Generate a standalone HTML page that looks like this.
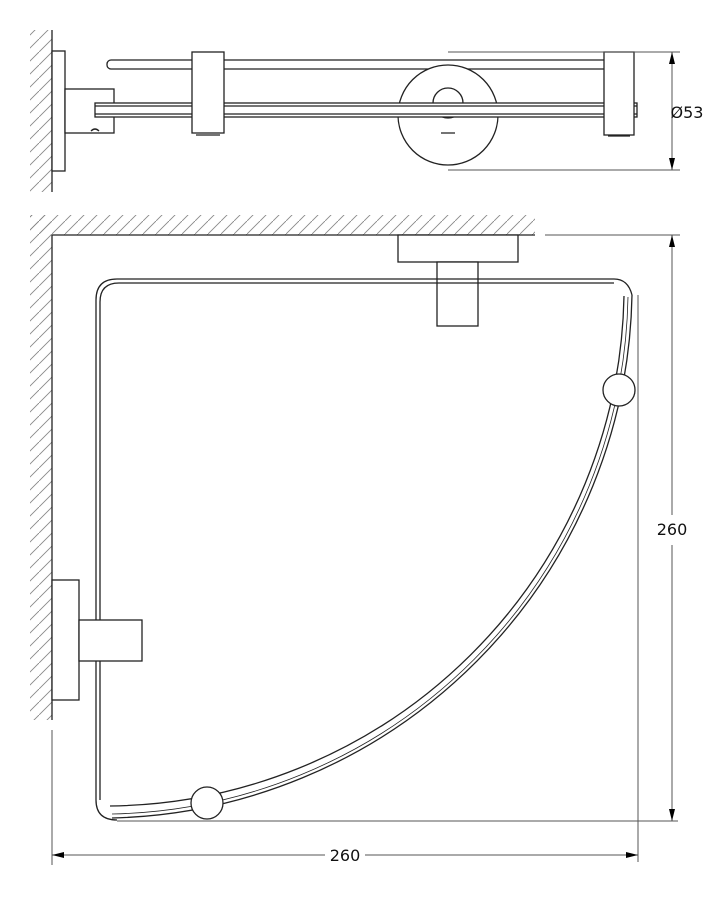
<!DOCTYPE html>
<html><head><style>body{margin:0;background:#fff}svg{display:block}</style></head><body>
<svg width="725" height="900" viewBox="0 0 725 900" xmlns="http://www.w3.org/2000/svg" font-family="'DejaVu Sans','Liberation Sans',sans-serif">
<defs>
<pattern id="h" width="13" height="13" patternUnits="userSpaceOnUse"><path d="M-2,15 L15,-2" stroke="#888" stroke-width="0.9"/></pattern>
<marker id="a" markerWidth="12" markerHeight="6" refX="12" refY="3" orient="auto" markerUnits="userSpaceOnUse"><path d="M0,0 L12,3 L0,6z" fill="#000"/></marker>
</defs>
<g fill="none" stroke="#222" stroke-width="1.3">
<rect x="30" y="30" width="22" height="162" fill="url(#h)" stroke="none"/>
<line x1="52" y1="30" x2="52" y2="192"/>
<rect x="52" y="51" width="13" height="120" fill="#fff"/>
<rect x="65" y="89" width="49" height="44" fill="#fff"/>
<rect x="107" y="60" width="518" height="9" rx="4" fill="#fff"/>
<circle cx="448" cy="115" r="50" fill="#fff"/>
<circle cx="448" cy="103" r="15" fill="#fff"/>
<rect x="95" y="103" width="542" height="14" fill="#fff"/>
<line x1="95" y1="106" x2="637" y2="106"/>
<line x1="95" y1="114" x2="637" y2="114"/>
<rect x="192" y="52" width="32" height="81" fill="#fff"/>
<rect x="604" y="52" width="30" height="83" fill="#fff"/>
<path d="M91,131 q4,-4 8,0 M441,133 h14 M196,135 h24 M608,136 h22"/>
<g stroke="#555" stroke-width="1">
<line x1="448" y1="52" x2="680" y2="52"/>
<line x1="448" y1="170" x2="680" y2="170"/>
<line x1="672" y1="64" x2="672" y2="158"/>
<line x1="672" y1="80" x2="672" y2="52" marker-end="url(#a)"/>
<line x1="672" y1="150" x2="672" y2="170" marker-end="url(#a)"/>
</g>
<rect x="30" y="215" width="505" height="20" fill="url(#h)" stroke="none"/>
<rect x="30" y="215" width="22" height="505" fill="url(#h)" stroke="none"/>
<line x1="52" y1="235" x2="535" y2="235"/>
<line x1="52" y1="235" x2="52" y2="720"/>
<rect x="398" y="235" width="120" height="27" fill="#fff"/>
<rect x="437" y="262" width="41" height="64" fill="#fff"/>
<path d="M96,800 V300 Q96,279 117,279 H614 Q628,279 632,295"/>
<path d="M100,800 V302 Q100,283 119,283 H614"/>
<path d="M96,800 Q96,820 117,820"/>
<path d="M632,295 A533,533 0 0 1 112,818"/>
<path d="M624,296 A520,520 0 0 1 110,806"/>
<path d="M628,297 A527,527 0 0 1 112,814" stroke-width="0.8"/>
<circle cx="619" cy="390" r="16" fill="#fff"/>
<circle cx="207" cy="803" r="16" fill="#fff"/>
<rect x="52" y="580" width="27" height="120" fill="#fff"/>
<rect x="79" y="620" width="63" height="41" fill="#fff"/>
<g stroke="#555" stroke-width="1">
<line x1="545" y1="235" x2="680" y2="235"/>
<line x1="117" y1="821" x2="678" y2="821"/>
<line x1="638" y1="295" x2="638" y2="862"/>
<line x1="52" y1="730" x2="52" y2="865"/>
<line x1="672" y1="515" x2="672" y2="235" marker-end="url(#a)"/>
<line x1="672" y1="545" x2="672" y2="821" marker-end="url(#a)"/>
<line x1="325" y1="855" x2="52" y2="855" marker-end="url(#a)"/>
<line x1="365" y1="855" x2="638" y2="855" marker-end="url(#a)"/>
</g>
</g>
<g font-size="16" fill="#111" text-anchor="middle">
<text x="687" y="118">Ø53</text>
<text x="672" y="535">260</text>
<text x="345" y="861">260</text>
</g>
</svg>
</body></html>
